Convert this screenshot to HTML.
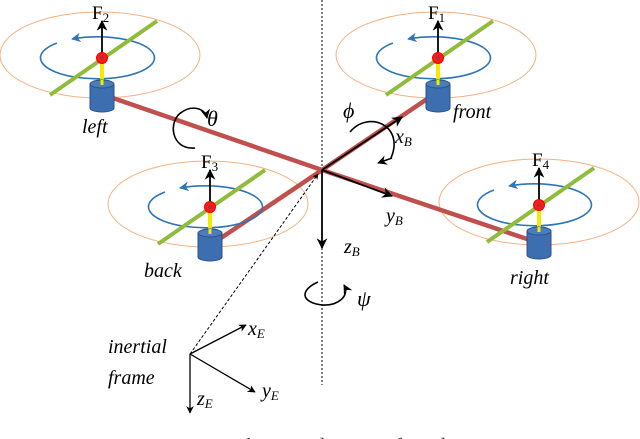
<!DOCTYPE html>
<html><head><meta charset="utf-8"><style>
html,body{margin:0;padding:0;background:#fff;}
svg{display:block;}
text{font-family:"Liberation Serif",serif;}
</style></head><body>
<svg width="640" height="439" viewBox="0 0 640 439" xmlns="http://www.w3.org/2000/svg">
<defs>
<marker id="ah" viewBox="0 0 10 10" refX="9" refY="5" markerWidth="6" markerHeight="6" orient="auto"><path d="M0,0 L10,5 L0,10 L3,5 z" fill="#000"/></marker>
<marker id="bh" viewBox="0 0 10 10" refX="9" refY="5" markerWidth="6" markerHeight="6" orient="auto"><path d="M0,0 L10,5 L0,10 L3,5 z" fill="#2e75b6"/></marker>
<g id="rotorA">
<ellipse cx="-2" cy="-3" rx="100" ry="43" fill="none" stroke="#f4b183" stroke-width="1"/>
</g>
<g id="rotorB">
<path d="M-45,-15 A57,21 0 1 0 -30,-19" fill="none" stroke="#2e75b6" stroke-width="1.6" marker-end="url(#bh)"/>
<line x1="-52" y1="37" x2="55" y2="-37" stroke="#8fbc3a" stroke-width="4"/>
<line x1="0" y1="0" x2="0" y2="-37" stroke="#000" stroke-width="1.8" marker-end="url(#ah)"/>
<line x1="0" y1="5" x2="0" y2="26" stroke="#f5e900" stroke-width="4"/>
<path d="M-12,26 L-12,50 A12,4 0 0 0 12,50 L12,26 z" fill="#3d6fb0" stroke="#2a5288" stroke-width="1"/>
<ellipse cx="0" cy="26" rx="12" ry="4" fill="#4a7cc0" stroke="#2a5288" stroke-width="1"/>
<line x1="0" y1="22" x2="0" y2="27" stroke="#f5e900" stroke-width="3"/>
<circle cx="0" cy="0" r="5.5" fill="#ff1a1a" stroke="#e00" stroke-width="1"/>
<circle cx="0" cy="0" r="2" fill="#b03030"/>
</g>
</defs>
<use href="#rotorA" x="102" y="58"/>
<use href="#rotorA" x="438" y="58"/>
<use href="#rotorA" x="210" y="207"/>
<use href="#rotorA" x="541" y="205"/>
<line x1="322" y1="0" x2="322" y2="385" stroke="#000" stroke-width="1" stroke-dasharray="2,2"/>
<g stroke="#c0504d" stroke-width="4.5">
<line x1="110" y1="97" x2="322" y2="170"/>
<line x1="322" y1="170" x2="430" y2="97"/>
<line x1="218" y1="240" x2="322" y2="170"/>
<line x1="322" y1="170" x2="530" y2="240"/>
</g>
<use href="#rotorB" x="102" y="58"/>
<use href="#rotorB" x="438" y="58"/>
<use href="#rotorB" x="210" y="207"/>
<use href="#rotorB" x="539" y="205"/>
<g stroke="#000" stroke-width="1.8" fill="none">
<line x1="322" y1="170" x2="402" y2="117" marker-end="url(#ah)"/>
<line x1="322" y1="170" x2="392" y2="196" marker-end="url(#ah)"/>
<line x1="322" y1="170" x2="322" y2="248" marker-end="url(#ah)"/>
</g>
<line x1="190" y1="354" x2="318" y2="174" stroke="#000" stroke-width="1" stroke-dasharray="3,2" marker-end="url(#ah)"/>
<g stroke="#000" stroke-width="1.3">
<line x1="190" y1="354" x2="246" y2="325" marker-end="url(#ah)"/>
<line x1="190" y1="354" x2="255" y2="392" marker-end="url(#ah)"/>
<line x1="190" y1="354" x2="190" y2="413" marker-end="url(#ah)"/>
</g>
<g stroke="#000" stroke-width="1.6" fill="none">
<path d="M195,148 C170,150 168,120 182,112 C192,105 205,108 207,118" marker-end="url(#ah)"/>
<path d="M350,132 C368,110 405,125 391,158" />
<path d="M392,158 L378,163" marker-end="url(#ah)"/>
<path d="M318,282 C300,290 300,302 322,305 C338,306 350,296 344,285" marker-end="url(#ah)"/>
</g>
<g font-size="19" fill="#000">
<text x="92" y="19">F<tspan font-size="13" dy="3">2</tspan></text>
<text x="428" y="19">F<tspan font-size="13" dy="3">1</tspan></text>
<text x="201" y="168">F<tspan font-size="13" dy="3">3</tspan></text>
<text x="532" y="166">F<tspan font-size="13" dy="3">4</tspan></text>
</g>
<g font-size="20" font-style="italic" fill="#000">
<text x="82" y="133">left</text>
<text x="453" y="118">front</text>
<text x="144" y="277">back</text>
<text x="510" y="284">right</text>
<text x="108" y="353">inertial</text>
<text x="108" y="384">frame</text>
<text x="207" y="126" font-size="22">θ</text>
<text x="343" y="118" font-size="22">ϕ</text>
<text x="357" y="306" font-size="22">ψ</text>
<text x="395" y="143">x<tspan font-size="13" dy="3">B</tspan></text>
<text x="386" y="222">y<tspan font-size="13" dy="3">B</tspan></text>
<text x="344" y="253">z<tspan font-size="13" dy="3">B</tspan></text>
<text x="248" y="335">x<tspan font-size="13" dy="3">E</tspan></text>
<text x="262" y="397">y<tspan font-size="13" dy="3">E</tspan></text>
<text x="197" y="405">z<tspan font-size="13" dy="3">E</tspan></text>
</g>
<text x="320" y="452" font-size="20" text-anchor="middle" fill="#333">Fig. 1: A schematic diagram of quadrotor</text>
</svg>
</body></html>
